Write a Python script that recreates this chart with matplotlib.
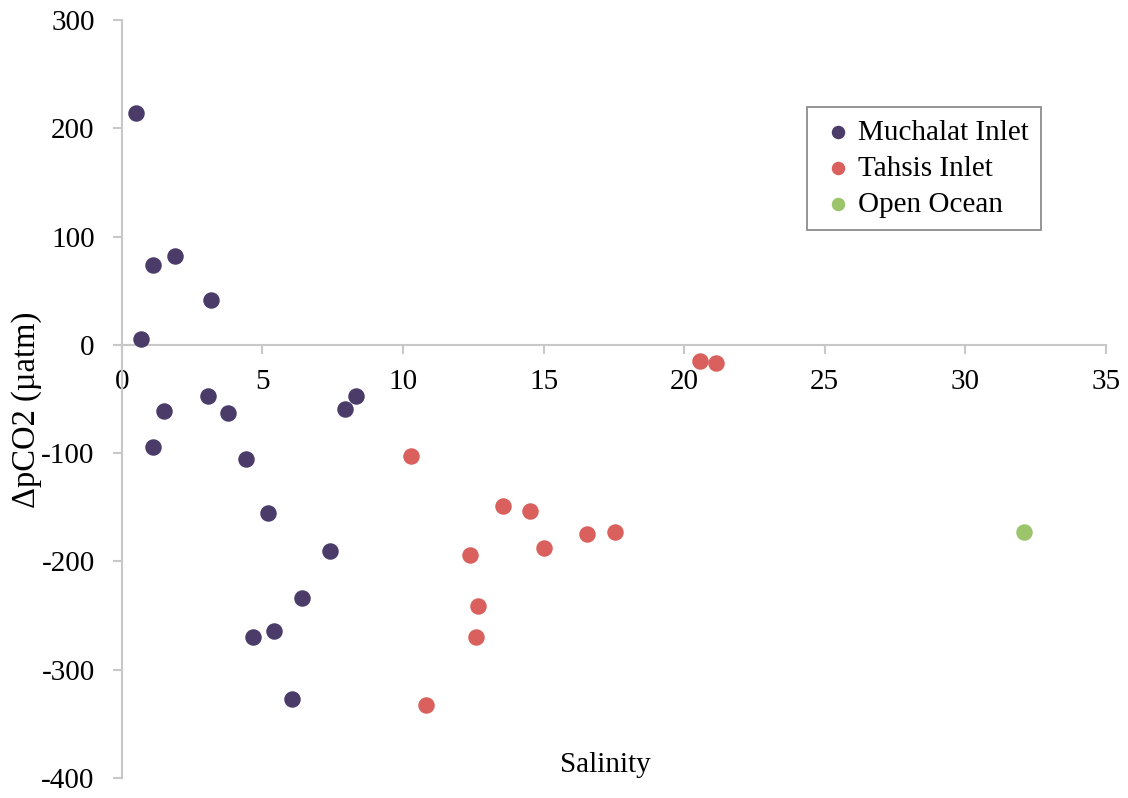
import matplotlib.pyplot as plt

plt.rcParams['font.family'] = ['Liberation Serif', 'DejaVu Serif']
plt.rcParams['axes.unicode_minus'] = False

# Salinity vs delta pCO2 per region
muchalat_sal = [0.50, 1.10, 1.88, 3.17, 0.68, 1.49, 1.10, 3.06, 3.77, 4.41,
                5.19, 7.40, 6.40, 4.66, 5.40, 6.05, 7.93, 8.32]
muchalat_dpco2 = [214, 74, 82, 41, 5, -61, -94, -47, -63, -105,
                  -155, -190, -234, -270, -264, -327, -59, -47]

tahsis_sal = [10.28, 13.55, 14.51, 12.38, 15.0, 16.54, 17.53, 12.66, 12.59,
              10.81, 20.55, 21.12]
tahsis_dpco2 = [-103, -149, -153, -194, -188, -175, -173, -241, -270,
                -333, -15, -17]

ocean_sal = [32.1]
ocean_dpco2 = [-173]

x_ticks = [0, 5, 10, 15, 20, 25, 30, 35]
y_ticks = [-400, -300, -200, -100, 0, 100, 200, 300]


def generate_graphic():
    fig = plt.figure(figsize=(11.28, 7.98), dpi=100)
    ax = fig.add_axes([0.108, 0.025, 0.8725, 0.95])

    ax.scatter(muchalat_sal, muchalat_dpco2, s=118, color='#4a3b68',
               label='Muchalat Inlet', zorder=3)
    ax.scatter(tahsis_sal, tahsis_dpco2, s=118, color='#d9605c',
               label='Tahsis Inlet', zorder=3)
    ax.scatter(ocean_sal, ocean_dpco2, s=118, color='#9cc46b',
               label='Open Ocean', zorder=3)

    ax.set_xlim(0, 35)
    ax.set_ylim(-400, 300)
    ax.set_xticks(x_ticks)
    ax.set_yticks(y_ticks)

    ax.spines['top'].set_visible(False)
    ax.spines['right'].set_visible(False)
    ax.spines['bottom'].set_position(('data', 0))
    for side in ['left', 'bottom']:
        ax.spines[side].set_color('#c8c8c8')
        ax.spines[side].set_linewidth(1.5)
    ax.tick_params(axis='both', colors='#c8c8c8', length=6.5, width=1.5,
                   labelsize=21, labelcolor='black')
    ax.tick_params(axis='x', pad=11)
    ax.tick_params(axis='y', pad=13)

    fig.text(605 / 1128, 1 - 765 / 798, 'Salinity', fontsize=21,
             ha='center', va='center')
    fig.text(27 / 1128, 1 - 410 / 798, 'ΔpCO2 (µatm)', fontsize=23.5,
             rotation=90, ha='center', va='center')

    leg = ax.legend(loc='upper left', bbox_to_anchor=(0.696, 0.885),
                    fontsize=21, markerscale=0.8, handletextpad=0.05,
                    labelspacing=0.33, borderpad=0.42, fancybox=False,
                    framealpha=1, handlelength=1.3, borderaxespad=0)
    leg.get_frame().set_edgecolor('#8c8c8c')
    leg.get_frame().set_linewidth(1.3)

    fig.savefig('out.png', dpi=100)
    plt.close(fig)


if __name__ == "__main__":
    generate_graphic()
